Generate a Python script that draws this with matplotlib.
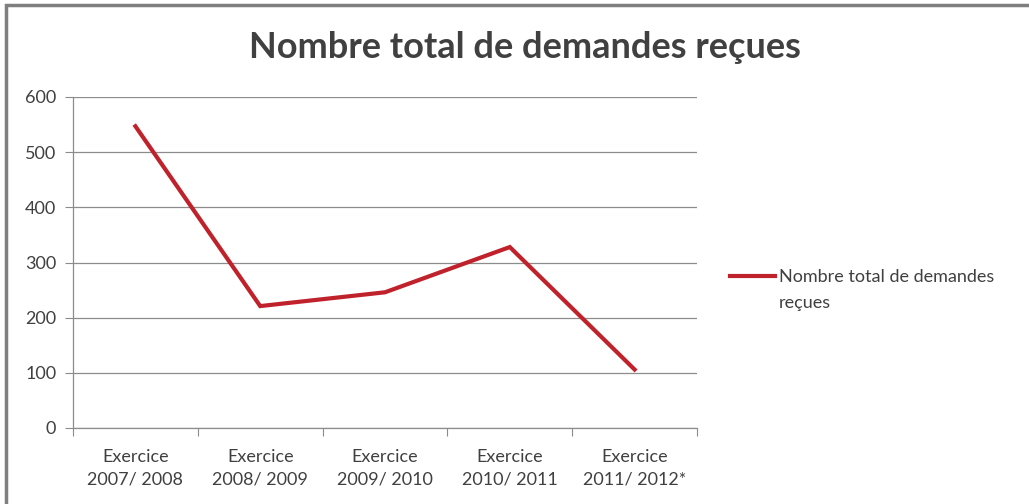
import matplotlib
matplotlib.use("Agg")
import matplotlib.pyplot as plt
from matplotlib.patches import Rectangle
import numpy as np

categories = ["Exercice\n2007/ 2008", "Exercice\n2008/ 2009", "Exercice\n2009/ 2010",
              "Exercice\n2010/ 2011", "Exercice\n2011/ 2012*"]
values = [547, 221, 246, 328, 106]
yticks = [0, 100, 200, 300, 400, 500, 600]
series_name = "Nombre total de demandes reçues"

plt.rcParams['font.family'] = ['Lato', 'DejaVu Sans']
text_color = "#404040"
line_color = "#C0222C"
grid_color = "#8C8C8C"

fig = plt.figure(figsize=(10.29, 5.04), dpi=100)
ax = fig.add_axes([73/1029, 1-428/504, (697-73)/1029, (428-97)/504])

x = np.arange(len(categories))
line, = ax.plot(x, values, color=line_color, lw=3, solid_joinstyle='miter', label=series_name)

ax.set_xlim(-0.5, len(categories)-0.5)
ax.set_ylim(0, 600)
ax.set_yticks(yticks)
ax.yaxis.grid(True, color=grid_color, lw=0.9)
ax.set_axisbelow(True)

ax.set_xticks(np.arange(-0.5, len(categories), 1.0))
ax.set_xticklabels([])
ax.set_xticks(x, minor=True)
ax.set_xticklabels(categories, minor=True, fontsize=13, color=text_color, linespacing=1.55)
ax.tick_params(axis='x', which='minor', length=0, pad=15)
ax.tick_params(axis='x', which='major', length=6, color=grid_color, direction='out')
ax.tick_params(axis='y', length=6, color=grid_color, labelsize=13, labelcolor=text_color, pad=6)

for s in ['top', 'right']:
    ax.spines[s].set_visible(False)
for s in ['left', 'bottom']:
    ax.spines[s].set_color(grid_color)
    ax.spines[s].set_linewidth(0.9)

fig.text(525/1029, 1-47/504, "Nombre total de demandes reçues", ha='center', va='center',
         fontsize=26, fontweight='bold', color=text_color)

leg = ax.legend(handles=[line], labels=["Nombre total de demandes"], loc='center left',
                bbox_to_anchor=(730/1029, 1-277/504), bbox_transform=fig.transFigure,
                frameon=False, fontsize=13, handlelength=2.5, handletextpad=0.2,
                labelcolor=text_color, borderpad=0, borderaxespad=0)
fig.text(779/1029, 1-303/504, "reçues", ha='left', va='center', fontsize=13, color=text_color)

fig.patches.append(Rectangle((6/1029, -0.05), 1.2, 1-5/504+0.05, transform=fig.transFigure,
                             fill=False, edgecolor="#7F7F7F", lw=2.5))

fig.savefig("out.png", dpi=100)
